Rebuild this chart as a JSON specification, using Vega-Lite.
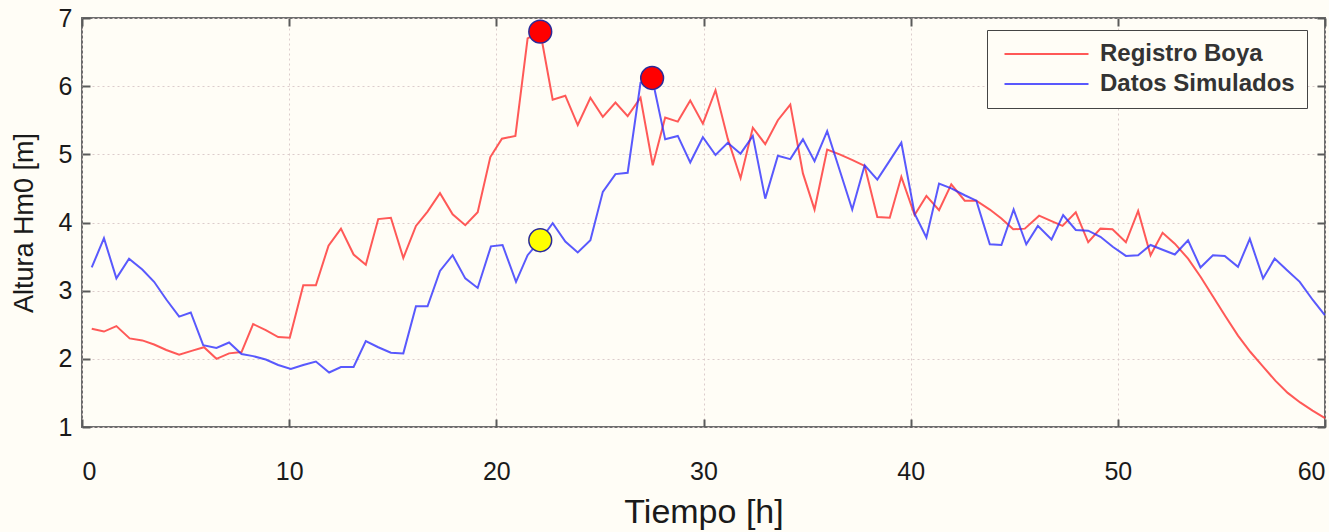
{
  "$schema": "https://vega.github.io/schema/vega-lite/v6.json",
  "width": 1243,
  "height": 409,
  "autosize": "none",
  "padding": {"left": 82, "top": 18, "right": 4, "bottom": 105},
  "background": "#fffdf6",
  "config": {
    "font": "Liberation Sans",
    "view": {"stroke": "#6e6e6e", "strokeWidth": 2}
  },
  "datasets": {
    "series": [
      {"t": 0.47, "h": 2.44, "serie": "Registro Boya"},
      {"t": 1.06, "h": 2.40, "serie": "Registro Boya"},
      {"t": 1.66, "h": 2.48, "serie": "Registro Boya"},
      {"t": 2.30, "h": 2.30, "serie": "Registro Boya"},
      {"t": 2.91, "h": 2.27, "serie": "Registro Boya"},
      {"t": 3.48, "h": 2.21, "serie": "Registro Boya"},
      {"t": 4.07, "h": 2.13, "serie": "Registro Boya"},
      {"t": 4.69, "h": 2.06, "serie": "Registro Boya"},
      {"t": 5.33, "h": 2.12, "serie": "Registro Boya"},
      {"t": 5.89, "h": 2.17, "serie": "Registro Boya"},
      {"t": 6.49, "h": 2.00, "serie": "Registro Boya"},
      {"t": 7.10, "h": 2.08, "serie": "Registro Boya"},
      {"t": 7.70, "h": 2.10, "serie": "Registro Boya"},
      {"t": 8.26, "h": 2.51, "serie": "Registro Boya"},
      {"t": 8.87, "h": 2.42, "serie": "Registro Boya"},
      {"t": 9.47, "h": 2.32, "serie": "Registro Boya"},
      {"t": 10.03, "h": 2.31, "serie": "Registro Boya"},
      {"t": 10.68, "h": 3.08, "serie": "Registro Boya"},
      {"t": 11.29, "h": 3.08, "serie": "Registro Boya"},
      {"t": 11.90, "h": 3.66, "serie": "Registro Boya"},
      {"t": 12.50, "h": 3.91, "serie": "Registro Boya"},
      {"t": 13.11, "h": 3.53, "serie": "Registro Boya"},
      {"t": 13.70, "h": 3.38, "serie": "Registro Boya"},
      {"t": 14.30, "h": 4.05, "serie": "Registro Boya"},
      {"t": 14.91, "h": 4.07, "serie": "Registro Boya"},
      {"t": 15.51, "h": 3.48, "serie": "Registro Boya"},
      {"t": 16.12, "h": 3.95, "serie": "Registro Boya"},
      {"t": 16.68, "h": 4.16, "serie": "Registro Boya"},
      {"t": 17.28, "h": 4.43, "serie": "Registro Boya"},
      {"t": 17.89, "h": 4.12, "serie": "Registro Boya"},
      {"t": 18.50, "h": 3.96, "serie": "Registro Boya"},
      {"t": 19.10, "h": 4.15, "serie": "Registro Boya"},
      {"t": 19.71, "h": 4.96, "serie": "Registro Boya"},
      {"t": 20.27, "h": 5.23, "serie": "Registro Boya"},
      {"t": 20.92, "h": 5.27, "serie": "Registro Boya"},
      {"t": 21.51, "h": 6.70, "serie": "Registro Boya"},
      {"t": 22.12, "h": 6.80, "serie": "Registro Boya"},
      {"t": 22.72, "h": 5.80, "serie": "Registro Boya"},
      {"t": 23.33, "h": 5.86, "serie": "Registro Boya"},
      {"t": 23.93, "h": 5.43, "serie": "Registro Boya"},
      {"t": 24.54, "h": 5.83, "serie": "Registro Boya"},
      {"t": 25.14, "h": 5.55, "serie": "Registro Boya"},
      {"t": 25.75, "h": 5.76, "serie": "Registro Boya"},
      {"t": 26.34, "h": 5.56, "serie": "Registro Boya"},
      {"t": 26.96, "h": 5.83, "serie": "Registro Boya"},
      {"t": 27.55, "h": 4.84, "serie": "Registro Boya"},
      {"t": 28.15, "h": 5.54, "serie": "Registro Boya"},
      {"t": 28.76, "h": 5.48, "serie": "Registro Boya"},
      {"t": 29.36, "h": 5.79, "serie": "Registro Boya"},
      {"t": 29.97, "h": 5.45, "serie": "Registro Boya"},
      {"t": 30.58, "h": 5.94, "serie": "Registro Boya"},
      {"t": 31.17, "h": 5.23, "serie": "Registro Boya"},
      {"t": 31.79, "h": 4.65, "serie": "Registro Boya"},
      {"t": 32.38, "h": 5.39, "serie": "Registro Boya"},
      {"t": 32.98, "h": 5.15, "serie": "Registro Boya"},
      {"t": 33.59, "h": 5.50, "serie": "Registro Boya"},
      {"t": 34.19, "h": 5.73, "serie": "Registro Boya"},
      {"t": 34.80, "h": 4.72, "serie": "Registro Boya"},
      {"t": 35.36, "h": 4.19, "serie": "Registro Boya"},
      {"t": 35.97, "h": 5.07, "serie": "Registro Boya"},
      {"t": 36.57, "h": 5.00, "serie": "Registro Boya"},
      {"t": 37.17, "h": 4.92, "serie": "Registro Boya"},
      {"t": 37.78, "h": 4.83, "serie": "Registro Boya"},
      {"t": 38.39, "h": 4.08, "serie": "Registro Boya"},
      {"t": 38.99, "h": 4.07, "serie": "Registro Boya"},
      {"t": 39.55, "h": 4.67, "serie": "Registro Boya"},
      {"t": 40.19, "h": 4.11, "serie": "Registro Boya"},
      {"t": 40.76, "h": 4.39, "serie": "Registro Boya"},
      {"t": 41.37, "h": 4.18, "serie": "Registro Boya"},
      {"t": 41.96, "h": 4.56, "serie": "Registro Boya"},
      {"t": 42.61, "h": 4.32, "serie": "Registro Boya"},
      {"t": 43.17, "h": 4.32, "serie": "Registro Boya"},
      {"t": 43.82, "h": 4.19, "serie": "Registro Boya"},
      {"t": 44.38, "h": 4.06, "serie": "Registro Boya"},
      {"t": 44.95, "h": 3.90, "serie": "Registro Boya"},
      {"t": 45.51, "h": 3.91, "serie": "Registro Boya"},
      {"t": 46.20, "h": 4.10, "serie": "Registro Boya"},
      {"t": 46.80, "h": 4.02, "serie": "Registro Boya"},
      {"t": 47.33, "h": 3.95, "serie": "Registro Boya"},
      {"t": 47.97, "h": 4.15, "serie": "Registro Boya"},
      {"t": 48.57, "h": 3.71, "serie": "Registro Boya"},
      {"t": 49.16, "h": 3.91, "serie": "Registro Boya"},
      {"t": 49.74, "h": 3.90, "serie": "Registro Boya"},
      {"t": 50.39, "h": 3.71, "serie": "Registro Boya"},
      {"t": 50.98, "h": 4.17, "serie": "Registro Boya"},
      {"t": 51.58, "h": 3.52, "serie": "Registro Boya"},
      {"t": 52.16, "h": 3.85, "serie": "Registro Boya"},
      {"t": 52.75, "h": 3.69, "serie": "Registro Boya"},
      {"t": 53.39, "h": 3.47, "serie": "Registro Boya"},
      {"t": 54.0, "h": 3.20, "serie": "Registro Boya"},
      {"t": 54.6, "h": 2.91, "serie": "Registro Boya"},
      {"t": 55.2, "h": 2.62, "serie": "Registro Boya"},
      {"t": 55.8, "h": 2.34, "serie": "Registro Boya"},
      {"t": 56.4, "h": 2.10, "serie": "Registro Boya"},
      {"t": 57.0, "h": 1.89, "serie": "Registro Boya"},
      {"t": 57.6, "h": 1.68, "serie": "Registro Boya"},
      {"t": 58.2, "h": 1.50, "serie": "Registro Boya"},
      {"t": 58.8, "h": 1.36, "serie": "Registro Boya"},
      {"t": 59.4, "h": 1.24, "serie": "Registro Boya"},
      {"t": 60.0, "h": 1.13, "serie": "Registro Boya"},
      {"t": 0.47, "h": 3.34, "serie": "Datos Simulados"},
      {"t": 1.06, "h": 3.77, "serie": "Datos Simulados"},
      {"t": 1.66, "h": 3.18, "serie": "Datos Simulados"},
      {"t": 2.27, "h": 3.47, "serie": "Datos Simulados"},
      {"t": 2.91, "h": 3.31, "serie": "Datos Simulados"},
      {"t": 3.48, "h": 3.13, "serie": "Datos Simulados"},
      {"t": 4.07, "h": 2.87, "serie": "Datos Simulados"},
      {"t": 4.69, "h": 2.62, "serie": "Datos Simulados"},
      {"t": 5.25, "h": 2.68, "serie": "Datos Simulados"},
      {"t": 5.85, "h": 2.20, "serie": "Datos Simulados"},
      {"t": 6.49, "h": 2.16, "serie": "Datos Simulados"},
      {"t": 7.10, "h": 2.24, "serie": "Datos Simulados"},
      {"t": 7.70, "h": 2.07, "serie": "Datos Simulados"},
      {"t": 8.26, "h": 2.04, "serie": "Datos Simulados"},
      {"t": 8.87, "h": 1.99, "serie": "Datos Simulados"},
      {"t": 9.47, "h": 1.91, "serie": "Datos Simulados"},
      {"t": 10.08, "h": 1.85, "serie": "Datos Simulados"},
      {"t": 10.68, "h": 1.91, "serie": "Datos Simulados"},
      {"t": 11.29, "h": 1.96, "serie": "Datos Simulados"},
      {"t": 11.93, "h": 1.80, "serie": "Datos Simulados"},
      {"t": 12.50, "h": 1.88, "serie": "Datos Simulados"},
      {"t": 13.11, "h": 1.88, "serie": "Datos Simulados"},
      {"t": 13.70, "h": 2.26, "serie": "Datos Simulados"},
      {"t": 14.30, "h": 2.17, "serie": "Datos Simulados"},
      {"t": 14.91, "h": 2.09, "serie": "Datos Simulados"},
      {"t": 15.51, "h": 2.08, "serie": "Datos Simulados"},
      {"t": 16.12, "h": 2.77, "serie": "Datos Simulados"},
      {"t": 16.68, "h": 2.77, "serie": "Datos Simulados"},
      {"t": 17.28, "h": 3.29, "serie": "Datos Simulados"},
      {"t": 17.89, "h": 3.52, "serie": "Datos Simulados"},
      {"t": 18.50, "h": 3.18, "serie": "Datos Simulados"},
      {"t": 19.10, "h": 3.04, "serie": "Datos Simulados"},
      {"t": 19.74, "h": 3.65, "serie": "Datos Simulados"},
      {"t": 20.30, "h": 3.67, "serie": "Datos Simulados"},
      {"t": 20.95, "h": 3.13, "serie": "Datos Simulados"},
      {"t": 21.51, "h": 3.52, "serie": "Datos Simulados"},
      {"t": 22.12, "h": 3.74, "serie": "Datos Simulados"},
      {"t": 22.72, "h": 3.99, "serie": "Datos Simulados"},
      {"t": 23.33, "h": 3.72, "serie": "Datos Simulados"},
      {"t": 23.93, "h": 3.56, "serie": "Datos Simulados"},
      {"t": 24.54, "h": 3.74, "serie": "Datos Simulados"},
      {"t": 25.14, "h": 4.45, "serie": "Datos Simulados"},
      {"t": 25.75, "h": 4.71, "serie": "Datos Simulados"},
      {"t": 26.34, "h": 4.73, "serie": "Datos Simulados"},
      {"t": 26.96, "h": 6.05, "serie": "Datos Simulados"},
      {"t": 27.52, "h": 6.12, "serie": "Datos Simulados"},
      {"t": 28.15, "h": 5.22, "serie": "Datos Simulados"},
      {"t": 28.76, "h": 5.27, "serie": "Datos Simulados"},
      {"t": 29.36, "h": 4.88, "serie": "Datos Simulados"},
      {"t": 29.97, "h": 5.25, "serie": "Datos Simulados"},
      {"t": 30.58, "h": 4.99, "serie": "Datos Simulados"},
      {"t": 31.17, "h": 5.17, "serie": "Datos Simulados"},
      {"t": 31.79, "h": 5.01, "serie": "Datos Simulados"},
      {"t": 32.38, "h": 5.27, "serie": "Datos Simulados"},
      {"t": 32.98, "h": 4.35, "serie": "Datos Simulados"},
      {"t": 33.59, "h": 4.98, "serie": "Datos Simulados"},
      {"t": 34.19, "h": 4.93, "serie": "Datos Simulados"},
      {"t": 34.80, "h": 5.22, "serie": "Datos Simulados"},
      {"t": 35.36, "h": 4.90, "serie": "Datos Simulados"},
      {"t": 35.97, "h": 5.34, "serie": "Datos Simulados"},
      {"t": 36.57, "h": 4.77, "serie": "Datos Simulados"},
      {"t": 37.18, "h": 4.19, "serie": "Datos Simulados"},
      {"t": 37.78, "h": 4.84, "serie": "Datos Simulados"},
      {"t": 38.39, "h": 4.63, "serie": "Datos Simulados"},
      {"t": 38.95, "h": 4.89, "serie": "Datos Simulados"},
      {"t": 39.55, "h": 5.17, "serie": "Datos Simulados"},
      {"t": 40.19, "h": 4.13, "serie": "Datos Simulados"},
      {"t": 40.76, "h": 3.78, "serie": "Datos Simulados"},
      {"t": 41.37, "h": 4.57, "serie": "Datos Simulados"},
      {"t": 41.96, "h": 4.50, "serie": "Datos Simulados"},
      {"t": 42.61, "h": 4.40, "serie": "Datos Simulados"},
      {"t": 43.17, "h": 4.32, "serie": "Datos Simulados"},
      {"t": 43.82, "h": 3.68, "serie": "Datos Simulados"},
      {"t": 44.38, "h": 3.67, "serie": "Datos Simulados"},
      {"t": 44.97, "h": 4.19, "serie": "Datos Simulados"},
      {"t": 45.58, "h": 3.68, "serie": "Datos Simulados"},
      {"t": 46.14, "h": 3.95, "serie": "Datos Simulados"},
      {"t": 46.80, "h": 3.75, "serie": "Datos Simulados"},
      {"t": 47.36, "h": 4.11, "serie": "Datos Simulados"},
      {"t": 47.97, "h": 3.89, "serie": "Datos Simulados"},
      {"t": 48.57, "h": 3.88, "serie": "Datos Simulados"},
      {"t": 49.16, "h": 3.79, "serie": "Datos Simulados"},
      {"t": 49.77, "h": 3.64, "serie": "Datos Simulados"},
      {"t": 50.39, "h": 3.51, "serie": "Datos Simulados"},
      {"t": 50.98, "h": 3.52, "serie": "Datos Simulados"},
      {"t": 51.58, "h": 3.67, "serie": "Datos Simulados"},
      {"t": 52.16, "h": 3.60, "serie": "Datos Simulados"},
      {"t": 52.75, "h": 3.53, "serie": "Datos Simulados"},
      {"t": 53.39, "h": 3.74, "serie": "Datos Simulados"},
      {"t": 53.99, "h": 3.34, "serie": "Datos Simulados"},
      {"t": 54.59, "h": 3.52, "serie": "Datos Simulados"},
      {"t": 55.16, "h": 3.51, "serie": "Datos Simulados"},
      {"t": 55.80, "h": 3.35, "serie": "Datos Simulados"},
      {"t": 56.37, "h": 3.76, "serie": "Datos Simulados"},
      {"t": 57.01, "h": 3.18, "serie": "Datos Simulados"},
      {"t": 57.57, "h": 3.47, "serie": "Datos Simulados"},
      {"t": 58.17, "h": 3.30, "serie": "Datos Simulados"},
      {"t": 58.78, "h": 3.13, "serie": "Datos Simulados"},
      {"t": 59.42, "h": 2.86, "serie": "Datos Simulados"},
      {"t": 59.99, "h": 2.64, "serie": "Datos Simulados"}
    ],
    "marcas": [
      {"t": 22.12, "h": 6.80, "tipo": "Máximo"},
      {"t": 27.52, "h": 6.12, "tipo": "Máximo"},
      {"t": 22.12, "h": 3.74, "tipo": "Referencia"}
    ]
  },
  "layer": [
    {
      "data": {"name": "series"},
      "mark": {"type": "line", "strokeWidth": 2, "opacity": 0.8},
      "encoding": {
        "x": {
          "field": "t", "type": "quantitative", "title": "Tiempo [h]",
          "scale": {"domain": [0, 60], "nice": false, "zero": false},
          "axis": {
            "orient": "bottom", "tickCount": 6,
            "grid": true, "gridColor": "#dccccc", "gridDash": [2, 3], "gridWidth": 1,
            "domain": false, "ticks": true, "tickColor": "#5a5a5a", "tickWidth": 2, "tickSize": -8,
            "labelColor": "#1a1a1a", "titleColor": "#1a1a1a", "titleFontWeight": "normal",
            "labelFlush": true, "labelFontSize": 25, "labelPadding": 40,
            "titleFontSize": 34, "titlePadding": 11
          }
        },
        "y": {
          "field": "h", "type": "quantitative", "title": "Altura Hm0 [m]",
          "scale": {"domain": [1, 7], "nice": false, "zero": false},
          "axis": {
            "orient": "left", "tickCount": 6,
            "grid": true, "gridColor": "#dccccc", "gridDash": [2, 3], "gridWidth": 1,
            "domain": false, "ticks": true, "tickColor": "#5a5a5a", "tickWidth": 2, "tickSize": -8,
            "labelColor": "#1a1a1a", "titleColor": "#1a1a1a", "titleFontWeight": "normal",
            "labelFontSize": 25, "labelPadding": 18,
            "titleFontSize": 27, "titlePadding": 20
          }
        },
        "color": {
          "field": "serie", "type": "nominal",
          "sort": ["Registro Boya", "Datos Simulados"],
          "scale": {"domain": ["Registro Boya", "Datos Simulados"], "range": ["#ff3030", "#3030ff"]},
          "legend": {
            "orient": "none", "legendX": 905, "legendY": 12, "title": null,
            "symbolType": "M-4,0H4", "symbolSize": 441, "symbolStrokeWidth": 2,
            "symbolOffset": 35.5, "labelOffset": 41.5,
            "labelFontSize": 24, "labelFontWeight": "bold", "labelColor": "#333333",
            "rowPadding": 6, "padding": 12, "labelLimit": 400,
            "strokeColor": "#444444", "fillColor": "#fffdf6"
          }
        }
      }
    },
    {
      "data": {"name": "marcas"},
      "mark": {"type": "point", "shape": "circle", "filled": true, "size": 520, "opacity": 1, "stroke": "#2a2a9a", "strokeWidth": 1.5},
      "encoding": {
        "x": {
          "field": "t", "type": "quantitative",
          "axis": {"orient": "top", "tickCount": 6, "labels": false, "grid": false, "title": null,
                   "domain": false, "ticks": true, "tickColor": "#5a5a5a", "tickWidth": 2, "tickSize": -8}
        },
        "y": {
          "field": "h", "type": "quantitative",
          "axis": {"orient": "right", "tickCount": 6, "labels": false, "grid": false, "title": null,
                   "domain": false, "ticks": true, "tickColor": "#5a5a5a", "tickWidth": 2, "tickSize": -8}
        },
        "fill": {
          "field": "tipo", "type": "nominal",
          "scale": {"domain": ["Máximo", "Referencia"], "range": ["#ff0000", "#ffff00"]},
          "legend": null
        }
      }
    }
  ],
  "resolve": {"axis": {"x": "independent", "y": "independent"}}
}
